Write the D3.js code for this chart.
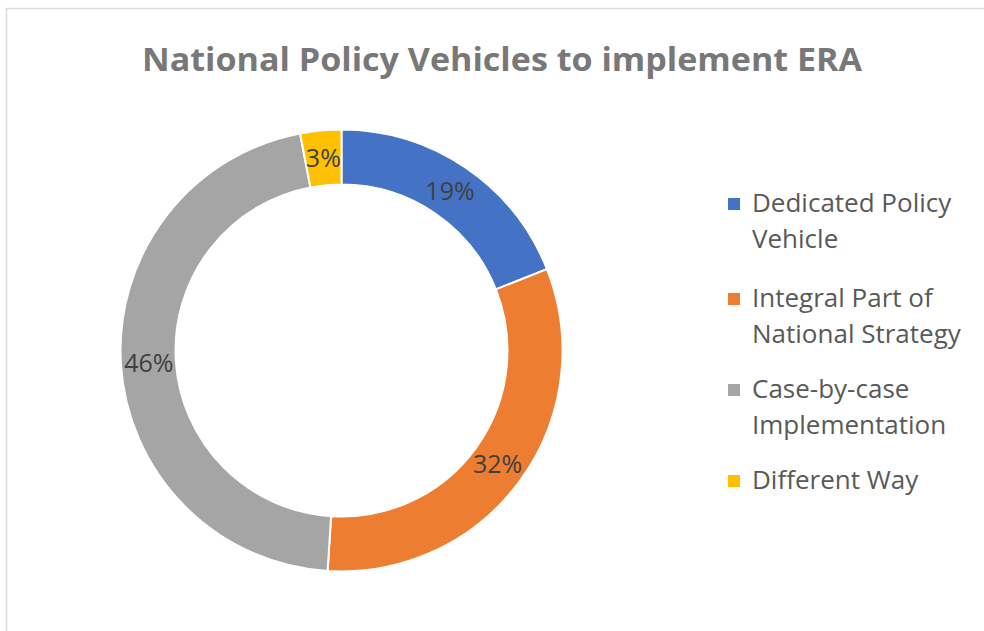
<!DOCTYPE html>
<html>
<head>
<meta charset="utf-8">
<script src="https://cdn.jsdelivr.net/npm/d3@7"></script>
<style>
  body { margin: 0; background: #fff; }
  svg { display: block; font-family: "Open Sans", "Noto Sans", sans-serif; }
</style>
</head>
<body>
<svg id="chart" width="984" height="631"></svg>
<script>
// chart data
var categories = ["Dedicated Policy Vehicle", "Integral Part of National Strategy", "Case-by-case Implementation", "Different Way"];
var legendLines = [["Dedicated Policy", "Vehicle"], ["Integral Part of", "National Strategy"], ["Case-by-case", "Implementation"], ["Different Way"]];
var values = [19, 32, 46, 3];
var colors = ["#4472c4", "#ed7d31", "#a5a5a5", "#ffc000"];

var svg = d3.select("#chart");

// frame (only top and left edges are visible)
svg.append("rect")
    .attr("x", 6.5).attr("y", 8.5)
    .attr("width", 1000).attr("height", 640)
    .attr("fill", "none")
    .attr("stroke", "#d9d9d9")
    .attr("stroke-width", 1.5);

// title
svg.append("text")
    .attr("x", 502).attr("y", 71)
    .attr("text-anchor", "middle")
    .attr("font-size", "32px")
    .attr("font-weight", "bold")
    .attr("fill", "#787878")
    .attr("textLength", 720)
    .attr("lengthAdjust", "spacingAndGlyphs")
    .text("National Policy Vehicles to implement ERA");

// donut
var cx = 341.5, cy = 350.5, outerR = 221, innerR = 166;
var pie = d3.pie().sort(null).value(d => d);
var arc = d3.arc().innerRadius(innerR).outerRadius(outerR);
var labelArc = d3.arc().innerRadius(193).outerRadius(193);

var g = svg.append("g").attr("transform", "translate(" + cx + "," + cy + ")");
var slices = pie(values);

g.selectAll("path.slice")
    .data(slices)
    .enter().append("path")
    .attr("class", "slice")
    .attr("d", arc)
    .attr("fill", (d, i) => colors[i])
    .attr("stroke", "#fff")
    .attr("stroke-width", 2);

g.selectAll("text.lbl")
    .data(slices)
    .enter().append("text")
    .attr("class", "lbl")
    .attr("transform", d => "translate(" + labelArc.centroid(d) + ")")
    .attr("text-anchor", "middle")
    .attr("dy", "0.36em")
    .attr("font-size", "25px")
    .attr("fill", "#404040")
    .text(d => d.value + "%");

// legend
var legendY = [212, 307, 398, 489];
var leg = svg.append("g");
legendLines.forEach(function(lines, i) {
    leg.append("rect")
        .attr("x", 728).attr("y", legendY[i] - 14)
        .attr("width", 12).attr("height", 12)
        .attr("fill", colors[i]);
    lines.forEach(function(t, j) {
        leg.append("text")
            .attr("x", 752)
            .attr("y", legendY[i] + j * 36)
            .attr("font-size", "26px")
            .attr("fill", "#595959")
            .text(t);
    });
});
</script>
</body>
</html>
